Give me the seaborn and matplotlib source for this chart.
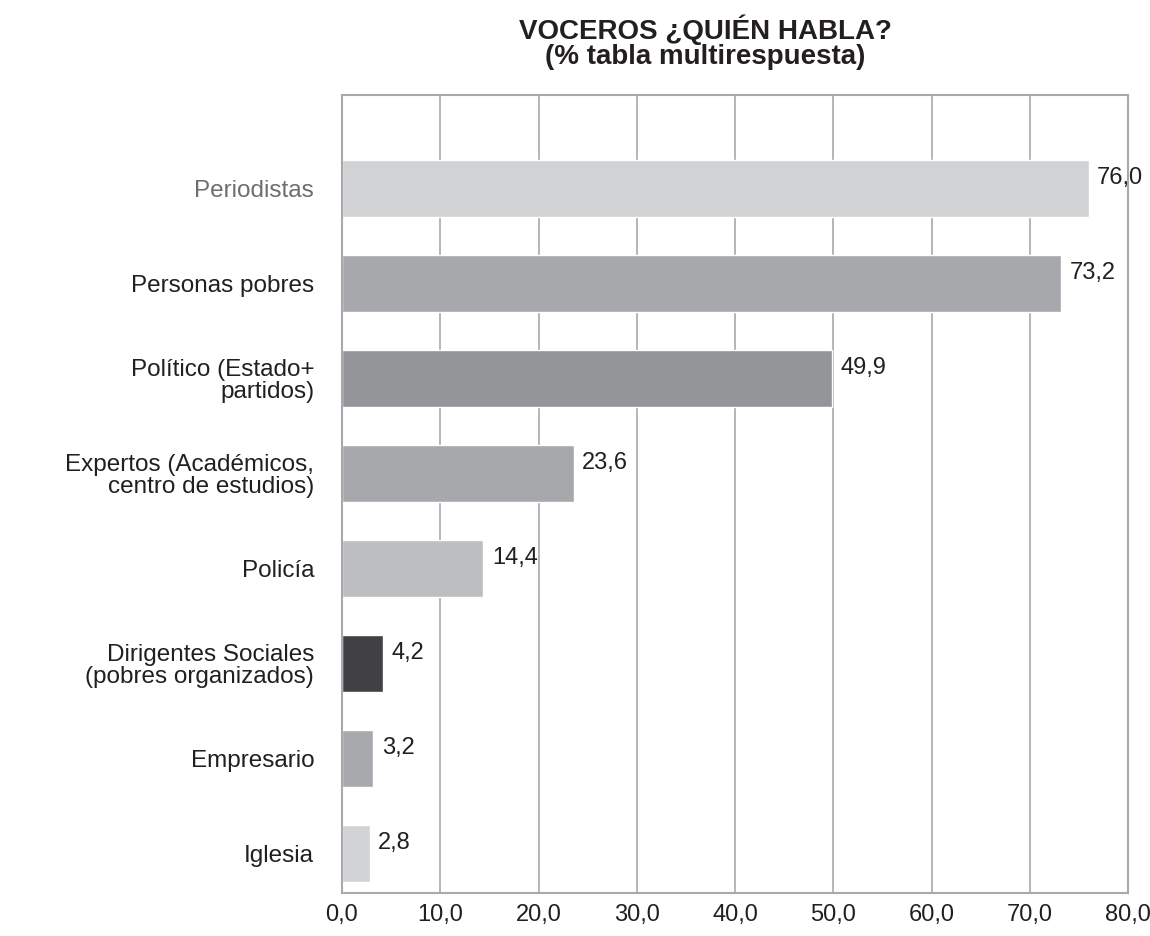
import matplotlib
matplotlib.use("Agg")
import matplotlib.pyplot as plt
import pandas as pd
import seaborn as sns

categorias = [
    "Periodistas",
    "Personas pobres",
    "Político (Estado+\npartidos)",
    "Expertos (Académicos,\ncentro de estudios)",
    "Policía",
    "Dirigentes Sociales\n(pobres organizados)",
    "Empresario",
    "Iglesia",
]
porcentajes = [76.0, 73.2, 49.9, 23.6, 14.4, 4.2, 3.2, 2.8]
colores = ["#D1D2D4", "#A7A8AC", "#939598", "#A7A8AB", "#BCBEC0", "#414042", "#A7A9AC", "#D1D3D4"]
ticks_x = [0, 10, 20, 30, 40, 50, 60, 70, 80]

df = pd.DataFrame({"categoria": categorias, "porcentaje": porcentajes})

sns.set_style("white")
plt.rcParams["font.family"] = ["Liberation Sans", "DejaVu Sans"]

fig = plt.figure(figsize=(11.5, 9.36), dpi=100)
ax = fig.add_axes([342 / 1150, 1 - 893 / 936, (1128 - 342) / 1150, (893 - 95) / 936])

sns.barplot(
    data=df, x="porcentaje", y="categoria", hue="categoria",
    palette=colores, legend=False, width=0.6, saturation=1, ax=ax, zorder=2,
)

ax.set_xlim(0, 80)
ax.set_ylim(7.42, -0.98)
ax.set_xticks(ticks_x)
ax.set_xticklabels([f"{t:.1f}".replace(".", ",") for t in ticks_x], fontsize=17, color="#231F20")
ax.tick_params(axis="x", length=0, pad=8)
ax.tick_params(axis="y", length=0, pad=20)
for lbl in ax.get_yticklabels():
    lbl.set_fontsize(17.5)
    lbl.set_color("#231F20")
    lbl.set_horizontalalignment("right")
    lbl.set_multialignment("right")
    lbl.set_linespacing(1.0)
ax.get_yticklabels()[0].set_color("#6D6E71")

ax.xaxis.grid(True, color="#A7A9AC", linewidth=1.2, zorder=0)
ax.yaxis.grid(False)
for sp in ax.spines.values():
    sp.set_color("#A7A9AC")
    sp.set_linewidth(1.5)
ax.set_xlabel("")
ax.set_ylabel("")

for i, v in enumerate(porcentajes):
    ax.annotate(f"{v:.1f}".replace(".", ","), xy=(v, i), xytext=(6, 7),
                textcoords="offset points", fontsize=17, color="#231F20",
                ha="left", va="center")

fig.text(705 / 1150, 1 - 30 / 936, "VOCEROS ¿QUIÉN HABLA?", ha="center", va="center",
         fontsize=20, fontweight="bold", color="#231F20")
fig.text(705 / 1150, 1 - 57 / 936, "(% tabla multirespuesta)", ha="center", va="center",
         fontsize=20, fontweight="bold", color="#231F20")

fig.savefig("out.png", dpi=100, facecolor="white")
